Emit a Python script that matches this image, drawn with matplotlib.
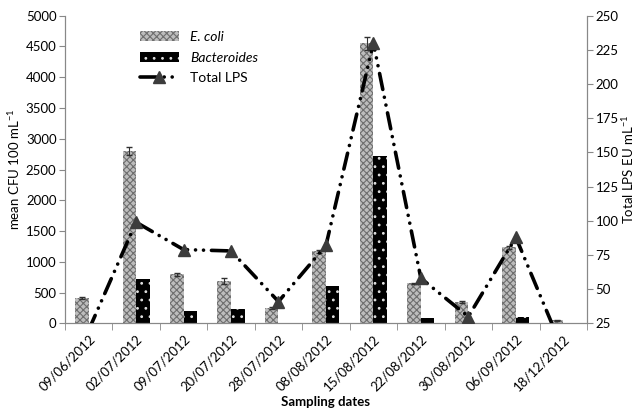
import matplotlib.pyplot as plt
import numpy as np

plt.rcParams['font.family'] = ['Lato', 'DejaVu Sans']
plt.rcParams['hatch.linewidth'] = 0.8
plt.rcParams['mathtext.fontset'] = 'custom'
plt.rcParams['mathtext.rm'] = 'Lato'

dates = ['09/06/2012', '02/07/2012', '09/07/2012', '20/07/2012', '28/07/2012',
         '08/08/2012', '15/08/2012', '22/08/2012', '30/08/2012', '06/09/2012',
         '18/12/2012']
ecoli = [410, 2800, 800, 690, 250, 1170, 4550, 650, 350, 1240, 55]
ecoli_err = [15, 60, 25, 50, 10, 30, 110, 10, 10, 25, 8]
bacteroides = [10, 730, 210, 240, 15, 610, 2720, 90, 5, 100, 15]
lps = [20, 99, 79, 78, 41, 82, 230, 58, 30, 88, 5]

x = np.arange(len(dates))
w = 0.285

fig, ax = plt.subplots(figsize=(6.36, 4.11), dpi=100)
fig.subplots_adjust(left=0.102, right=0.923, top=0.962, bottom=0.213)

ax.bar(x - w / 2, ecoli, w, color='#bdbdbd', edgecolor='#6e6e6e', linewidth=0,
       hatch='xxxxx', label='E. coli', zorder=2)
ax.errorbar(x - w / 2, ecoli, yerr=ecoli_err, fmt='none', ecolor='#303030',
            elinewidth=0.8, capsize=2.5, zorder=3)
ax.bar(x + w / 2, bacteroides, w, color='black', edgecolor='#e0e0e0', linewidth=0,
       hatch='..', label='Bacteroides', zorder=2)

ax.set_ylim(0, 5000)
ax.set_xlim(-0.5, len(dates) - 0.5)
ax.set_yticks(np.arange(0, 5001, 500))
ax.set_xticks(x)
ax.set_xticklabels(dates, rotation=45, ha='right', rotation_mode='anchor')
ax.set_xticks(np.arange(-0.5, len(dates), 1), minor=True)
ax.tick_params(axis='x', which='major', length=0, pad=7)
ax.tick_params(axis='x', which='minor', length=5, color='#888888', direction='out')
ax.tick_params(axis='y', length=4, color='#888888', labelsize=9.5, pad=2)
ax.tick_params(axis='x', labelsize=9.5)
ax.set_ylabel('mean CFU 100 mL$^{-1}$', fontsize=9.5, labelpad=3)
ax.set_xlabel('Sampling dates', fontsize=9.5, fontweight='bold', labelpad=2)

ax2 = ax.twinx()
ax2.plot(x, lps, color='black', linewidth=2.6, dashes=(4.5, 2.2, 0.01, 2.2, 0.01, 2.2),
         dash_capstyle='round', marker='^', markersize=9, markerfacecolor='#3c3c3c',
         markeredgecolor='#3c3c3c', label='Total LPS', zorder=4, clip_on=True)
ax2.set_ylim(25, 250)
ax2.set_yticks(np.arange(25, 251, 25))
ax2.tick_params(axis='y', length=4, color='#888888', labelsize=9.5, pad=2)
ax2.set_ylabel('Total LPS EU mL$^{-1}$', fontsize=9.5, labelpad=1)

for a in (ax, ax2):
    a.spines['top'].set_visible(False)
    for s in ('left', 'right', 'bottom'):
        a.spines[s].set_color('#888888')

h1, l1 = ax.get_legend_handles_labels()
h2, l2 = ax2.get_legend_handles_labels()
leg = ax2.legend(h1 + h2, l1 + l2, loc='upper left', bbox_to_anchor=(0.12, 0.99),
                 frameon=False, fontsize=10, handlelength=2.8, labelspacing=0.6)
for t in leg.get_texts()[:2]:
    t.set_fontstyle('italic')

fig.savefig('out.png', dpi=100)
